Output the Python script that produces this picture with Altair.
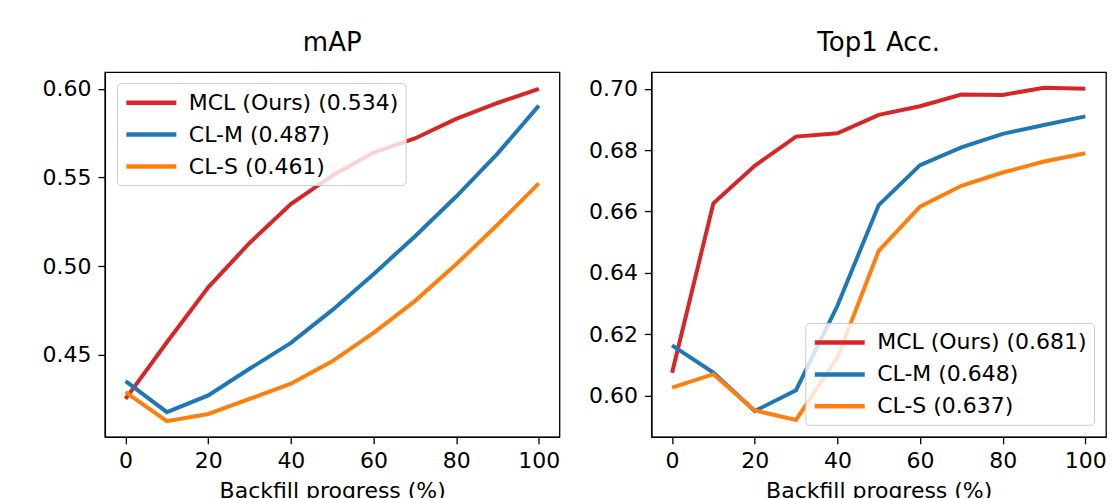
import altair as alt
import pandas as pd

progress = [0, 10, 20, 30, 40, 50, 60, 70, 80, 90, 100]

map_mcl = [0.425, 0.457, 0.488, 0.513, 0.535, 0.551, 0.564, 0.572, 0.583, 0.592, 0.600]
map_clm = [0.435, 0.4175, 0.427, 0.442, 0.4566, 0.4751, 0.4954, 0.5167, 0.5392, 0.5634, 0.5905]
map_cls = [0.4288, 0.4124, 0.4165, 0.425, 0.4336, 0.4462, 0.4623, 0.4802, 0.501, 0.5233, 0.5466]

top1_mcl = [0.6075, 0.6627, 0.6749, 0.6844, 0.6855, 0.6915, 0.6943, 0.6981, 0.698, 0.7003, 0.700]
top1_clm = [0.6164, 0.6075, 0.595, 0.6018, 0.6293, 0.6621, 0.6751, 0.6809, 0.6853, 0.6882, 0.691]
top1_cls = [0.6026, 0.607, 0.5952, 0.5921, 0.6124, 0.6472, 0.6616, 0.6684, 0.6727, 0.6763, 0.679]

map_labels = ["MCL (Ours) (0.534)", "CL-M (0.487)", "CL-S (0.461)"]
top1_labels = ["MCL (Ours) (0.681)", "CL-M (0.648)", "CL-S (0.637)"]

x_ticks = [0, 20, 40, 60, 80, 100]
map_ticks = [0.45, 0.50, 0.55, 0.60]
top1_ticks = [0.60, 0.62, 0.64, 0.66, 0.68, 0.70]

colors = ["#d62728", "#1f77b4", "#ff7f0e"]
FONT = "DejaVu Sans"


def panel(title, labels, series, y_domain, y_ticks, legend_pos):
    rows = []
    for lab, vals in zip(labels, series):
        for p, v in zip(progress, vals):
            rows.append({"progress": p, "value": v, "series": lab})
    df = pd.DataFrame(rows)
    base = alt.Chart(df)
    layers = []
    legend = alt.Legend(
        title=None,
        symbolType="M-1,0H4",
        symbolSize=400,
        symbolStrokeWidth=4.5,
        symbolFillColor="transparent",
        labelFontSize=22,
        labelFont=FONT,
        labelColor="#000000",
        labelLimit=500,
        labelOffset=40,
        rowPadding=8,
        padding=7,
        fillColor="rgba(255,255,255,0.8)",
        strokeColor="#cccccc",
        cornerRadius=4,
        **legend_pos,
    )
    for lab in labels:
        layers.append(
            base.transform_filter(alt.datum.series == lab)
            .mark_line(strokeWidth=4, clip=False)
            .encode(
                x=alt.X(
                    "progress:Q",
                    scale=alt.Scale(domain=[-5, 105], nice=False, zero=False),
                    axis=alt.Axis(values=x_ticks, title="Backfill progress (%)", grid=False),
                ),
                y=alt.Y(
                    "value:Q",
                    scale=alt.Scale(domain=y_domain, nice=False, zero=False),
                    axis=alt.Axis(values=y_ticks, format=".2f", title=None, grid=False),
                ),
                color=alt.Color(
                    "series:N",
                    scale=alt.Scale(domain=labels, range=colors),
                    legend=legend,
                ),
            )
        )
    return alt.layer(*layers).properties(
        width=455,
        height=365,
        title=alt.TitleParams(title, fontSize=26, fontWeight="normal", font=FONT, color="#000000", offset=16),
    )


left = panel("mAP", map_labels, [map_mcl, map_clm, map_cls], [0.4036, 0.6094], map_ticks,
             {"orient": "none", "legendX": 12, "legendY": 11})
right = panel("Top1 Acc.", top1_labels, [top1_mcl, top1_clm, top1_cls], [0.5866, 0.7054], top1_ticks,
              {"orient": "bottom-right", "offset": 12})

chart = (
    alt.hconcat(left, right, spacing=27)
    .resolve_scale(color="independent", y="independent")
    .resolve_legend(color="independent")
    .configure_view(stroke="#000000", strokeWidth=1.3)
    .configure_axis(
        labelFont=FONT,
        labelFontSize=22,
        labelColor="#000000",
        titleFont=FONT,
        titleFontSize=22,
        titleFontWeight="normal",
        titleColor="#000000",
        tickColor="#000000",
        tickSize=7,
        tickWidth=1.3,
        domainColor="#000000",
        domainWidth=1.3,
        labelPadding=7,
        titlePadding=9,
    )
    .properties(padding={"left": 41, "top": 29, "right": 5, "bottom": 5}, background="white")
)

chart.save("out.html", embed_options={"renderer": "svg", "actions": False})
